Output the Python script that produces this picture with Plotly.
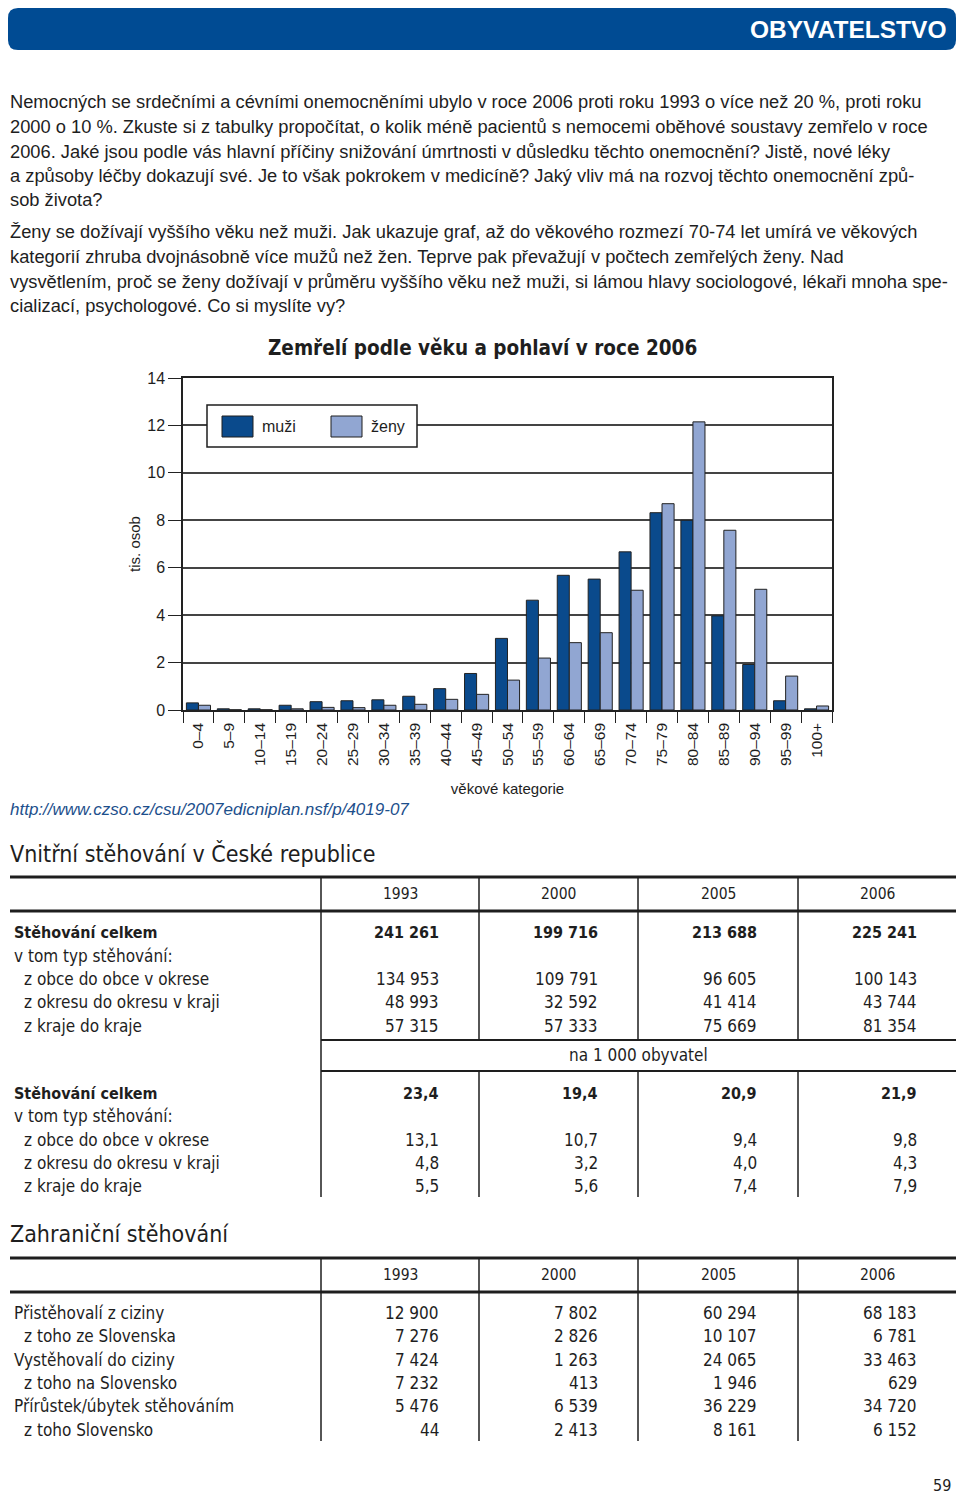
import plotly.graph_objects as go

W, H = 960, 1496

# ---- chart data (thousands of deaths, 2006) ----
age_groups = ["0–4", "5–9", "10–14", "15–19", "20–24", "25–29", "30–34", "35–39",
              "40–44", "45–49", "50–54", "55–59", "60–64", "65–69", "70–74",
              "75–79", "80–84", "85–89", "90–94", "95–99", "100+"]
men = [0.30, 0.05, 0.05, 0.20, 0.35, 0.39, 0.43, 0.58, 0.90, 1.54, 3.02,
       4.63, 5.68, 5.52, 6.67, 8.32, 8.00, 3.97, 1.92, 0.39, 0.05]
women = [0.20, 0.01, 0.01, 0.05, 0.11, 0.10, 0.20, 0.24, 0.45, 0.66, 1.26,
         2.19, 2.84, 3.26, 5.05, 8.70, 12.15, 7.58, 5.09, 1.43, 0.17]

# ---- table data ----
years = ["1993", "2000", "2005", "2006"]

internal_labels = ["Stěhování celkem", "v tom typ stěhování:", "z obce do obce v okrese",
                   "z okresu do okresu v kraji", "z kraje do kraje"]
internal_abs = [[241261, 199716, 213688, 225241],
                None,
                [134953, 109791, 96605, 100143],
                [48993, 32592, 41414, 43744],
                [57315, 57333, 75669, 81354]]
internal_rel = [[23.4, 19.4, 20.9, 21.9],
                None,
                [13.1, 10.7, 9.4, 9.8],
                [4.8, 3.2, 4.0, 4.3],
                [5.5, 5.6, 7.4, 7.9]]

foreign_labels = ["Přistěhovalí z ciziny", "z toho ze Slovenska", "Vystěhovalí do ciziny",
                  "z toho na Slovensko", "Přírůstek/úbytek stěhováním", "z toho Slovensko"]
foreign_vals = [[12900, 7802, 60294, 68183],
                [7276, 2826, 10107, 6781],
                [7424, 1263, 24065, 33463],
                [7232, 413, 1946, 629],
                [5476, 6539, 36229, 34720],
                [44, 2413, 8161, 6152]]

paragraph1 = [
    "Nemocných se srdečními a cévními onemocněními ubylo v roce 2006 proti roku 1993 o více než 20 %, proti roku",
    "2000 o 10 %. Zkuste si z tabulky propočítat, o kolik méně pacientů s nemocemi oběhové soustavy zemřelo v roce",
    "2006. Jaké jsou podle vás hlavní příčiny snižování úmrtnosti v důsledku těchto onemocnění? Jistě, nové léky",
    "a způsoby léčby dokazují své. Je to však pokrokem v medicíně? Jaký vliv má na rozvoj těchto onemocnění způ-",
    "sob života?",
]
paragraph2 = [
    "Ženy se dožívají vyššího věku než muži. Jak ukazuje graf, až do věkového rozmezí 70-74 let umírá ve věkových",
    "kategorií zhruba dvojnásobně více mužů než žen. Teprve pak převažují v počtech zemřelých ženy. Nad",
    "vysvětlením, proč se ženy dožívají v průměru vyššího věku než muži, si lámou hlavy sociologové, lékaři mnoha spe-",
    "cializací, psychologové. Co si myslíte vy?",
]

DARK = "#0a4a8c"
LIGHT = "#91a6d2"
INK = "#1e1e1e"
BODY = "Liberation Sans, Arial, sans-serif"
NARROW = "Liberation Sans Narrow, DejaVu Sans Condensed, sans-serif"


def X(p):
    return p / W


def Y(p):
    return 1 - p / H


def fmt_int(v):
    return f"{v:,}".replace(",", " ")


def fmt_dec(v):
    return f"{v:.1f}".replace(".", ",")


annotations = []
shapes = []


def text(x, y, s, size=16, family=BODY, color=INK, anchor="left", bold=False, italic=False):
    if bold:
        s = f"<b>{s}</b>"
    if italic:
        s = f"<i>{s}</i>"
    # annotation boxes carry ~2px padding, compensate so the glyphs sit where measured
    nudge = {"left": -2, "right": 2, "center": 0}[anchor]
    annotations.append(dict(x=X(x + nudge), y=Y(y), xref="paper", yref="paper", text=s,
                            showarrow=False, xanchor=anchor, yanchor="middle",
                            font=dict(size=size, family=family, color=color)))


def line(x0, y0, x1, y1, width=1.5, color=INK):
    shapes.append(dict(type="line", xref="paper", yref="paper",
                       x0=X(x0), y0=Y(y0), x1=X(x1), y1=Y(y1),
                       line=dict(color=color, width=width)))


def rect(x0, y0, x1, y1, fill, lc=INK, lw=1):
    shapes.append(dict(type="rect", xref="paper", yref="paper", layer="above",
                       x0=X(x0), y0=Y(y0), x1=X(x1), y1=Y(y1),
                       fillcolor=fill, line=dict(color=lc, width=lw)))


fig = go.Figure()

fig.add_trace(go.Bar(x=age_groups, y=men, name="muži", marker_color=DARK,
                     marker_line=dict(color="#222", width=1)))
fig.add_trace(go.Bar(x=age_groups, y=women, name="ženy", marker_color=LIGHT,
                     marker_line=dict(color="#222", width=1)))

# header bar
r = 10
x0, y0, x1, y1 = 8, 8, 956, 50
path = (f"M {X(x0 + r)},{Y(y0)} L {X(x1 - r)},{Y(y0)} Q {X(x1)},{Y(y0)} {X(x1)},{Y(y0 + r)} "
        f"L {X(x1)},{Y(y1 - r)} Q {X(x1)},{Y(y1)} {X(x1 - r)},{Y(y1)} "
        f"L {X(x0 + r)},{Y(y1)} Q {X(x0)},{Y(y1)} {X(x0)},{Y(y1 - r)} "
        f"L {X(x0)},{Y(y0 + r)} Q {X(x0)},{Y(y0)} {X(x0 + r)},{Y(y0)} Z")
shapes.append(dict(type="path", xref="paper", yref="paper", path=path,
                   fillcolor="#004b93", line=dict(width=0)))
text(946, 30, "OBYVATELSTVO", size=24.5, family=BODY, color="white", anchor="right", bold=True)

# paragraphs
for i, s in enumerate(paragraph1):
    text(10, 102 + i * 24.5, s, size=18.3)
for i, s in enumerate(paragraph2):
    text(10, 232 + i * 24.6, s, size=18.3)

# chart title
text(482, 348, "Zemřelí podle věku a pohlaví v roce 2006", size=20.5, family=NARROW,
     anchor="center", bold=True)

# legend box
rect(207, 405, 417, 447, "white", lw=1.5)
rect(222, 416, 253, 437, DARK, lw=1)
text(262, 427, "muži", size=16)
rect(331, 416, 362, 437, LIGHT, lw=1)
text(371, 427, "ženy", size=16)

# source
text(10, 809, "http://www.czso.cz/csu/2007edicniplan.nsf/p/4019-07", size=17,
     color="#1d4f8c", italic=True)

# ---- table columns ----
col_edges = [321, 479, 638, 798, 956]
num_right = [439, 598, 757, 917]

# internal migration
text(10, 854, "Vnitřní stěhování v České republice", size=23, family=NARROW)
line(10, 877, 956, 877, width=3)
line(10, 911, 956, 911, width=3)
for j, yr in enumerate(years):
    text((col_edges[j] + col_edges[j + 1]) / 2, 894, yr, size=15.5, family=NARROW, anchor="center")
for xe in col_edges[:-1]:
    line(xe, 877, xe, 1040)
    line(xe, 1071, xe, 1197)
line(321, 1040, 321, 1071)
line(321, 1040, 956, 1040, width=2)
line(321, 1071, 956, 1071, width=2)
text(638.5, 1055, "na 1 000 obyvatel", size=17, family=NARROW, anchor="center")

rows_abs_y = [932, 956, 979, 1002, 1026]
rows_rel_y = [1093, 1116, 1140, 1163, 1186]
for i, lab in enumerate(internal_labels):
    indent = 24 if i >= 2 else 14
    bold = i == 0
    size = 16 if bold else 17
    for ry, vals, f in ((rows_abs_y[i], internal_abs[i], fmt_int),
                        (rows_rel_y[i], internal_rel[i], fmt_dec)):
        text(indent, ry, lab, size=size, family=NARROW, bold=bold)
        if vals:
            for j, v in enumerate(vals):
                text(num_right[j], ry, f(v), size=size, family=NARROW, anchor="right", bold=bold)

# foreign migration
text(10, 1234, "Zahraniční stěhování", size=23, family=NARROW)
line(10, 1258, 956, 1258, width=3)
line(10, 1292, 956, 1292, width=3)
for j, yr in enumerate(years):
    text((col_edges[j] + col_edges[j + 1]) / 2, 1275, yr, size=15.5, family=NARROW, anchor="center")
for xe in col_edges[:-1]:
    line(xe, 1258, xe, 1441)
for i, lab in enumerate(foreign_labels):
    ry = 1313 + i * 23.3
    indent = 24 if i % 2 == 1 else 14
    text(indent, ry, lab, size=17, family=NARROW)
    for j, v in enumerate(foreign_vals[i]):
        text(num_right[j], ry, fmt_int(v), size=17, family=NARROW, anchor="right")

# page number
text(951, 1485, "59", size=16, family=NARROW, anchor="right")

fig.update_layout(
    width=W, height=H, autosize=False,
    margin=dict(l=0, r=0, t=0, b=0, autoexpand=False),
    paper_bgcolor="white", plot_bgcolor="white",
    barmode="group", bargap=0.22, bargroupgap=0,
    showlegend=False,
    font=dict(family=BODY, color=INK, size=15),
    shapes=shapes, annotations=annotations,
    xaxis=dict(domain=[X(183), X(832)], showline=True, linecolor="#222", linewidth=1.5,
               mirror=True, ticks="outside", ticklen=11, tickcolor="#222", tickwidth=1,
               tickson="boundaries", tickangle=-90, tickfont=dict(size=15.5, family=BODY),
               ticklabelstandoff=5, automargin=False,
               title=dict(text="věkové kategorie", font=dict(size=15, family=BODY), standoff=18)),
    yaxis=dict(domain=[Y(710), Y(378)], range=[0, 14], dtick=2, showline=True,
               linecolor="#222", linewidth=1.5, mirror=True, ticks="outside", ticklen=13,
               tickcolor="#222", showgrid=True, gridcolor="#444", gridwidth=1.5,
               zeroline=False, tickfont=dict(size=16, family=BODY), automargin=False,
               title=dict(text="tis. osob", font=dict(size=15, family=BODY), standoff=3)),
)

page_css = ("document.documentElement.style.margin='0';"
            "document.documentElement.style.overflow='hidden';"
            "document.body.style.margin='0';"
            "document.body.style.overflow='hidden';")
fig.write_html("out.html", config={"displayModeBar": False}, post_script=page_css)
